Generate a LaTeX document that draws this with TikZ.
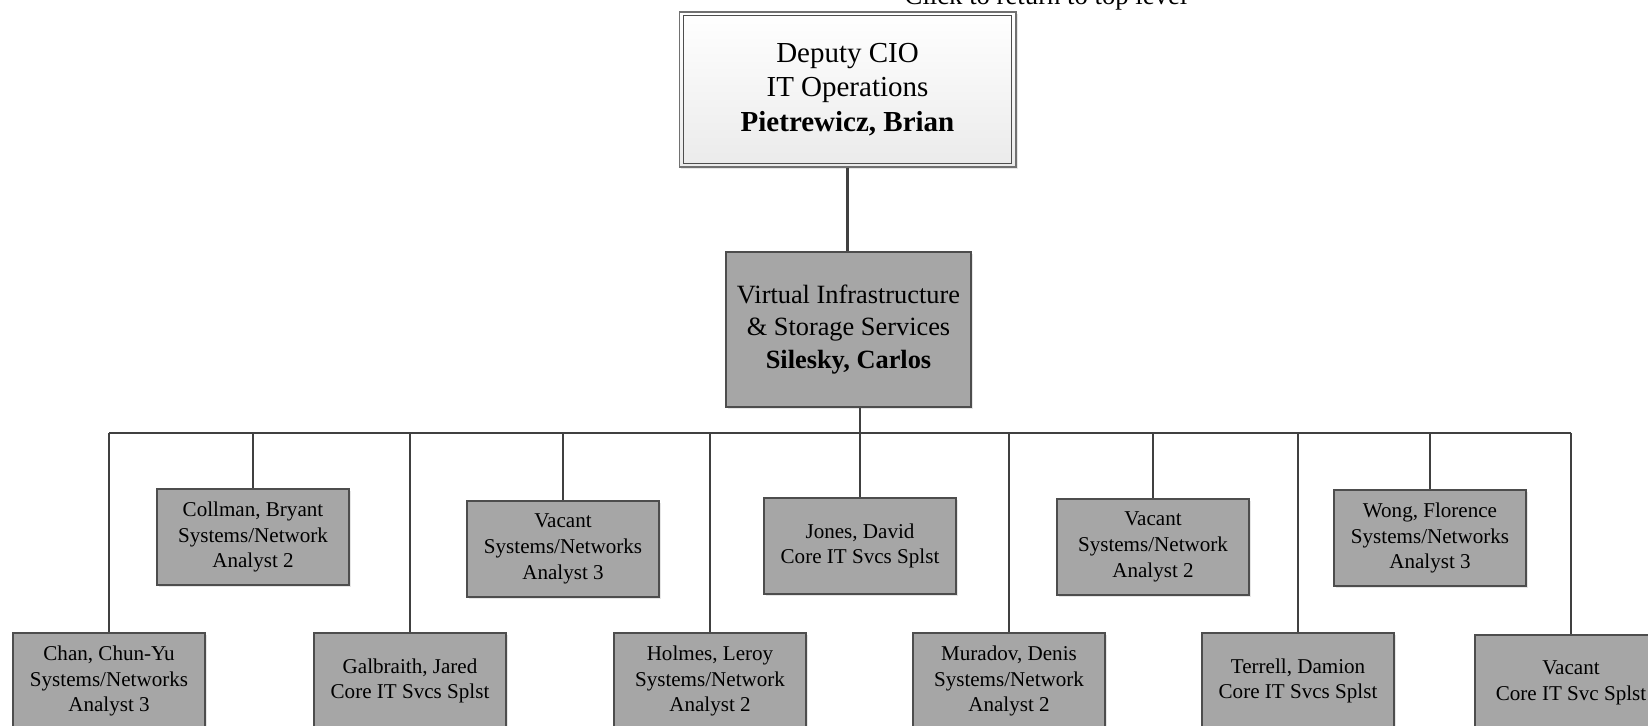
\documentclass[tikz,border=0pt]{standalone}
\usepackage{fontspec}
\setmainfont{Liberation Serif}
\usetikzlibrary{shadows}
\definecolor{boxgray}{HTML}{A6A6A6}
\definecolor{rimgray}{HTML}{4D4D4D}
\definecolor{linegray}{HTML}{404040}
\tikzset{
	chief/.style={draw=rimgray!80, line width=0.6pt,
		top color=white, bottom color=gray!16, minimum width=6.74cm, minimum height=3.1cm,
		inner sep=0pt, align=center, font=\fontsize{16.5}{19.8}\selectfont,
		drop shadow={shadow xshift=1.2pt, shadow yshift=-1.2pt, opacity=0.2}},
	lead/.style={draw=rimgray, line width=0.7pt, fill=boxgray, minimum width=4.9cm,
		minimum height=3.1cm, inner sep=0pt, align=center, font=\fontsize{15}{18.3}\selectfont,
		drop shadow={shadow xshift=1.2pt, shadow yshift=-1.2pt, opacity=0.2}},
	staff/.style={draw=rimgray, line width=0.7pt, fill=boxgray, minimum width=3.84cm,
		minimum height=1.92cm, inner sep=0pt, align=center, font=\fontsize{12}{14.6}\selectfont,
		drop shadow={shadow xshift=1.2pt, shadow yshift=-1.2pt, opacity=0.2}},
	link/.style={draw=linegray, line width=1.3pt}
}
\begin{document}
\begin{tikzpicture}[x=0.02cm, y=-0.02cm]
				\useasboundingbox (0,0) rectangle (1648,726);
				\node[anchor=base, font=\fontsize{15.2}{18}\selectfont] (toplink) at (1046,5) {Click to return to top level};
				\node[chief] (cio) at (847.5,89.5) {Deputy CIO\\IT Operations\\\textbf{Pietrewicz, Brian}};
				\draw[rimgray, line width=0.6pt] ([shift={(5,4)}]cio.north west) rectangle ([shift={(-5,-4)}]cio.south east);
				\node[lead] (viss) at (848.5,329.5) {Virtual Infrastructure\\\& Storage Services\\\textbf{Silesky, Carlos}};
				\coordinate (bus) at (860,433);
				
				% upper row
				\node[staff] (collman) at (253,537) {Collman, Bryant\\Systems/Network\\Analyst 2};
				\node[staff] (vacantA) at (563,549) {Vacant\\Systems/Networks\\Analyst 3};
				\node[staff] (jones) at (860,546) {Jones, David\\Core IT Svcs Splst};
				\node[staff] (vacantB) at (1153,547) {Vacant\\Systems/Network\\Analyst 2};
				\node[staff] (wong) at (1430,538) {Wong, Florence\\Systems/Networks\\Analyst 3};
				
				% lower row
				\node[staff] (chan) at (109,681) {Chan, Chun-Yu\\Systems/Networks\\Analyst 3};
				\node[staff] (galbraith) at (410,681) {Galbraith, Jared\\Core IT Svcs Splst};
				\node[staff] (holmes) at (710,681) {Holmes, Leroy\\Systems/Network\\Analyst 2};
				\node[staff] (muradov) at (1009,681) {Muradov, Denis\\Systems/Network\\Analyst 2};
				\node[staff] (terrell) at (1298,681) {Terrell, Damion\\Core IT Svcs Splst};
				\node[staff] (vacantC) at (1571,683) {Vacant\\Core IT Svc Splst};
				
				\draw[link] (cio.south) -- (cio.south |- viss.north);
				\draw[link] (viss.south -| bus) -- (bus);
				\draw[link] (bus -| chan.north) -- (bus -| vacantC.north);
				\draw[link] (bus -| chan.north) -- (chan.north) (bus -| collman.north) -- (collman.north);
				\draw[link] (bus -| galbraith.north) -- (galbraith.north) (bus -| vacantA.north) -- (vacantA.north);
				\draw[link] (bus -| holmes.north) -- (holmes.north) (bus) -- (jones.north);
				\draw[link] (bus -| muradov.north) -- (muradov.north) (bus -| vacantB.north) -- (vacantB.north);
				\draw[link] (bus -| terrell.north) -- (terrell.north) (bus -| wong.north) -- (wong.north);
				\draw[link] (bus -| vacantC.north) -- (vacantC.north);
	\end{tikzpicture}
\end{document}
